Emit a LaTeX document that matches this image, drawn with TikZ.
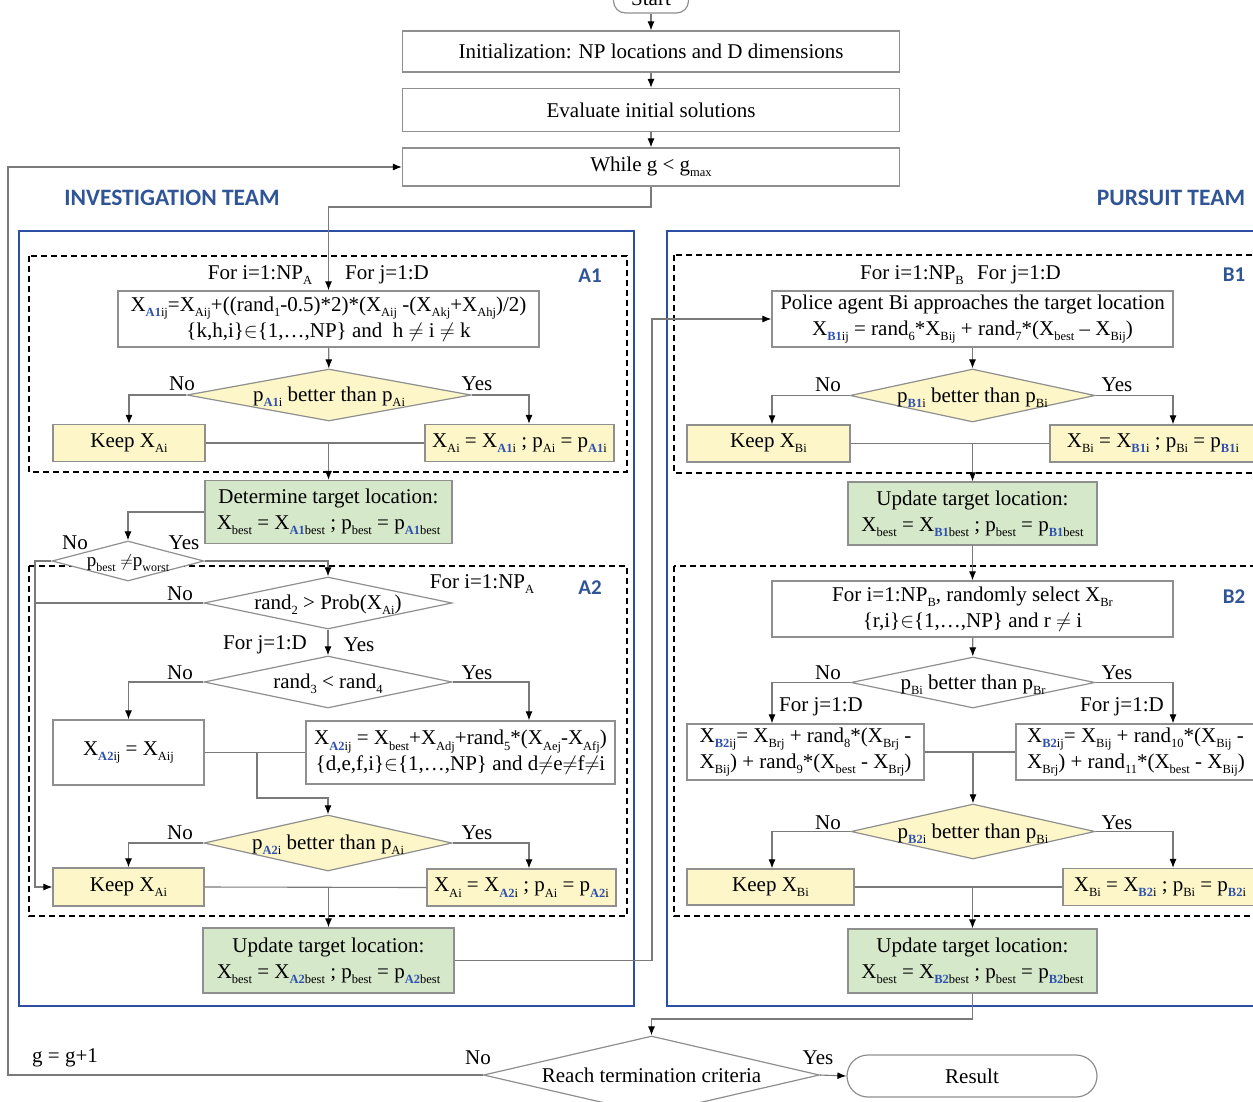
\documentclass[tikz,border=0pt]{standalone}
\usepackage{fontspec}
\setmainfont{Liberation Serif}
\newfontfamily\teamfont{Carlito}
\usetikzlibrary{arrows.meta,shapes.geometric}

\definecolor{teamblue}{HTML}{2F5597}
\definecolor{subblue}{HTML}{2E50B0}
\definecolor{frameblue}{HTML}{2C4EA3}
\definecolor{boxgray}{HTML}{8F8F8F}
\definecolor{linegray}{HTML}{7A7A7A}
\definecolor{yfill}{HTML}{FDF6C8}
\definecolor{gfill}{HTML}{D5E8C9}

% text sizes and subscripts
\newcommand\mainfs{\fontsize{21}{26}\selectfont}
\newcommand\smallfs{\fontsize{19}{22}\selectfont}
\newcommand\dn[1]{\raisebox{-0.25em}{\fontsize{12.5}{12.5}\selectfont #1}}
\newcommand\dnb[1]{\raisebox{-0.25em}{\fontsize{12.5}{12.5}\selectfont\bfseries\color{subblue}#1}}
\newcommand\dns[1]{\raisebox{-0.25em}{\fontsize{12}{12}\selectfont #1}}

\begin{document}
\begin{tikzpicture}[x=1pt,y=-1pt,
  base/.style={font=\mainfs, inner sep=0pt, align=center},
  wbox/.style={base, rectangle, draw=boxgray, line width=1.2pt, fill=white},
  ybox/.style={wbox, fill=yfill},
  gbox/.style={wbox, fill=gfill},
  dia/.style={base, diamond, draw=boxgray, line width=1.2pt, fill=white},
  ydia/.style={dia, fill=yfill},
  conn/.style={draw=linegray, line width=1.1pt},
  arr/.style={conn, -{Latex[length=9pt,width=7pt,color=black]}},
  lbl/.style={font=\mainfs, inner sep=0pt},
  teamlbl/.style={font=\teamfont\bfseries\fontsize{23.5}{26}\selectfont, text=teamblue, inner sep=0pt},
  partlbl/.style={font=\teamfont\bfseries\fontsize{21}{24}\selectfont, text=teamblue, inner sep=0pt},
  teamframe/.style={draw=frameblue, line width=2.6pt},
  partframe/.style={draw=black, line width=1.6pt, dash pattern=on 6pt off 4pt}
]
\useasboundingbox (0,0) rectangle (1253,1101);
\clip (0,0) rectangle (1253,1101);

% team frames and part frames
\draw[teamframe] (19,231) rectangle (634,1006);
\draw[teamframe] (667,231) rectangle (1270,1006);
\draw[partframe] (29,256) rectangle (627,472);
\draw[partframe] (29,566) rectangle (627,916);
\draw[partframe] (674,255) rectangle (1270,473);
\draw[partframe] (674,566) rectangle (1270,916);

\node[teamlbl] (invteam) at (172,198) {INVESTIGATION TEAM};
\node[teamlbl] (purteam) at (1171,198) {PURSUIT TEAM};
\node[partlbl] (pa1) at (590,276) {A1};
\node[partlbl] (pa2) at (590,588) {A2};
\node[partlbl] (pb1) at (1234,275) {B1};
\node[partlbl] (pb2) at (1234,597) {B2};

% ---------- nodes ----------
\node[wbox, rounded corners=12pt, minimum width=75, minimum height=28] (start) at (651,-1) {Start};
\node[wbox, minimum width=497, minimum height=41] (init) at (651,51.5) {Initialization: NP locations and D dimensions};
\node[wbox, minimum width=497, minimum height=43] (eval) at (651,110) {Evaluate initial solutions};
\node[wbox, minimum width=497, minimum height=38] (while) at (651,167) {While g < g\dn{max}};

% investigation team, part A1
\node[wbox, minimum width=421, minimum height=56] (a1f) at (328.5,319)
  {X\dnb{A1}\dn{ij}=X\dn{Aij}+((rand\dn{1}-0.5)*2)*(X\dn{Aij} -(X\dn{Akj}+X\dn{Ahj})/2)\\
   \{k,h,i\}$\in$\{1,…,NP\} and~ h $\neq$ i $\neq$ k};
\node[ydia, minimum width=284, minimum height=52] (a1d) at (329,395) {};
\node[lbl] (a1dt) at (329,397) {p\dnb{A1}\dn{i} better than p\dn{Ai}};
\node[ybox, minimum width=152, minimum height=37] (a1k) at (129,443) {Keep X\dn{Ai}};
\node[ybox, minimum width=189, minimum height=37] (a1y) at (519.5,443)
  {X\dn{Ai} = X\dnb{A1}\dn{i} ; p\dn{Ai} = p\dnb{A1}\dn{i}};
\node[gbox, minimum width=247, minimum height=63] (a1g) at (328.5,512)
  {Determine target location:\\X\dn{best} = X\dnb{A1}\dn{best} ; p\dn{best} = p\dnb{A1}\dn{best}};
\node[dia, minimum width=152, minimum height=40] (sd) at (128,561) {};
\node[lbl, font=\smallfs] (sdt) at (128,563) {p\dns{best} $\neq$p\dns{worst}};

% part A2
\node[dia, minimum width=248, minimum height=52] (a2d1) at (328,603) {};
\node[lbl] (a2d1t) at (328,605) {rand\dn{2} > Prob(X\dn{Ai})};
\node[dia, minimum width=248, minimum height=52] (a2d2) at (328,682) {};
\node[lbl] (a2d2t) at (328,684) {rand\dn{3} < rand\dn{4}};
\node[wbox, minimum width=151, minimum height=65] (a2l) at (128.5,752.5) {X\dnb{A2}\dn{ij} = X\dn{Aij}};
\node[wbox, minimum width=309, minimum height=63] (a2r) at (460.5,752.5)
  {X\dnb{A2}\dn{ij} = X\dn{best}+X\dn{Adj}+rand\dn{5}*(X\dn{Aej}-X\dn{Afj})\\
   \{d,e,f,i\}$\in$\{1,…,NP\} and d$\neq$e$\neq$f$\neq$i};
\node[ydia, minimum width=248, minimum height=56] (a2d3) at (328,843) {};
\node[lbl] (a2d3t) at (328,845) {p\dnb{A2}\dn{i} better than p\dn{Ai}};
\node[ybox, minimum width=151, minimum height=38] (a2k) at (128.5,887) {Keep X\dn{Ai}};
\node[ybox, minimum width=189, minimum height=37] (a2y) at (521.5,887.5)
  {X\dn{Ai} = X\dnb{A2}\dn{i} ; p\dn{Ai} = p\dnb{A2}\dn{i}};
\node[gbox, minimum width=251, minimum height=65] (a2g) at (328.5,960.5)
  {Update target location:\\X\dn{best} = X\dnb{A2}\dn{best} ; p\dn{best} = p\dnb{A2}\dn{best}};

% pursuit team, part B1
\node[wbox, minimum width=401, minimum height=56] (b1f) at (972.5,319)
  {Police agent Bi approaches the target location\\
   X\dnb{B1}\dn{ij} = rand\dn{6}*X\dn{Bij} + rand\dn{7}*(X\dn{best} – X\dn{Bij})};
\node[ydia, minimum width=245, minimum height=53] (b1d) at (972.5,395.5) {};
\node[lbl] (b1dt) at (972.5,397.5) {p\dnb{B1}\dn{i} better than p\dn{Bi}};
\node[ybox, minimum width=163, minimum height=37] (b1k) at (768.5,443.5) {Keep X\dn{Bi}};
\node[ybox, minimum width=206, minimum height=37] (b1y) at (1153,443.5)
  {X\dn{Bi} = X\dnb{B1}\dn{i} ; p\dn{Bi} = p\dnb{B1}\dn{i}};
\node[gbox, minimum width=249, minimum height=63] (b1g) at (972.5,513.5)
  {Update target location:\\X\dn{best} = X\dnb{B1}\dn{best} ; p\dn{best} = p\dnb{B1}\dn{best}};

% part B2
\node[wbox, minimum width=401, minimum height=56] (b2f) at (972.5,609)
  {For i=1:NP\dn{B}, randomly select X\dn{Br}\\\{r,i\}$\in$\{1,…,NP\} and r $\neq$ i};
\node[dia, minimum width=244, minimum height=51] (b2d) at (973,682.5) {};
\node[lbl] (b2dt) at (973,684.5) {p\dn{Bi} better than p\dn{Br}};
\node[wbox, align=left, minimum width=237, minimum height=56] (b2l) at (805.5,752)
  {X\dnb{B2}\dn{ij}= X\dn{Brj} + rand\dn{8}*(X\dn{Brj} -\\X\dn{Bij}) + rand\dn{9}*(X\dn{best} - X\dn{Brj})};
\node[wbox, align=left, minimum width=240, minimum height=56] (b2r) at (1136,752)
  {X\dnb{B2}\dn{ij}= X\dn{Bij} + rand\dn{10}*(X\dn{Bij} -\\X\dn{Brj}) + rand\dn{11}*(X\dn{best} - X\dn{Bij})};
\node[ydia, minimum width=244, minimum height=55] (b2d2) at (973,831.5) {};
\node[lbl] (b2d2t) at (973,833.5) {p\dnb{B2}\dn{i} better than p\dn{Bi}};
\node[ybox, minimum width=167, minimum height=36] (b2k) at (770.5,887) {Keep X\dn{Bi}};
\node[ybox, minimum width=194, minimum height=37] (b2y) at (1160,887)
  {X\dn{Bi} = X\dnb{B2}\dn{i} ; p\dn{Bi} = p\dnb{B2}\dn{i}};
\node[gbox, minimum width=249, minimum height=64] (b2g) at (972.5,961)
  {Update target location:\\X\dn{best} = X\dnb{B2}\dn{best} ; p\dn{best} = p\dnb{B2}\dn{best}};

% termination
\node[dia, minimum width=336, minimum height=78] (term) at (651.5,1075) {};
\node[lbl] (termt) at (651.5,1075) {Reach termination criteria};
\node[wbox, rounded corners=21pt, minimum width=250, minimum height=42] (result) at (972,1076) {Result};

% ---------- labels ----------
\node[lbl] (fia) at (260,275) {For i=1:NP\dn{A}};
\node[lbl] (fja) at (387,275) {For j=1:D};
\node[lbl] (no1) at (182,384) {No};
\node[lbl] (yes1) at (477,384) {Yes};
\node[lbl] (no2) at (75,543) {No};
\node[lbl] (yes2) at (184,543) {Yes};
\node[lbl] (fia2) at (482,584) {For i=1:NP\dn{A}};
\node[lbl] (no3) at (180,594) {No};
\node[lbl] (fja2) at (265,645) {For j=1:D};
\node[lbl] (yes3) at (359,645) {Yes};
\node[lbl] (no4) at (180,673) {No};
\node[lbl] (yes4) at (477,673) {Yes};
\node[lbl] (no5) at (180,833) {No};
\node[lbl] (yes5) at (477,833) {Yes};

\node[lbl] (fib) at (912,275) {For i=1:NP\dn{B}};
\node[lbl] (fjb) at (1019,275) {For j=1:D};
\node[lbl] (no6) at (828,385) {No};
\node[lbl] (yes6) at (1117,385) {Yes};
\node[lbl] (no7) at (828,673) {No};
\node[lbl] (yes7) at (1117,673) {Yes};
\node[lbl] (fjb2) at (821,707) {For j=1:D};
\node[lbl] (fjb3) at (1122,707) {For j=1:D};
\node[lbl] (no8) at (828,823) {No};
\node[lbl] (yes8) at (1117,823) {Yes};

\node[lbl] (gstep) at (65,1058) {g = g+1};
\node[lbl] (no9) at (478,1058) {No};
\node[lbl] (yes9) at (818,1058) {Yes};

% ---------- connectors ----------
% set-up
\draw[arr] (start) -- (init);
\draw[arr] (init) -- (eval);
\draw[arr] (eval) -- (while);
\draw[arr] (while.south) -- (651,207) -| (a1f.north);

% A1
\draw[arr] (a1f) -- (a1d);
\draw[arr] (a1d.west) -| (a1k.north);
\draw[arr] (a1d.east) -| ([xshift=9.5pt]a1y.north);
\draw[conn] (a1k.east) -- (a1y.west);
\draw[arr] (a1g.north |- a1k.east) -- (a1g.north);
\draw[arr] (a1g.west) -| (sd.north);
\draw[arr] (sd.east) -| (a2d1.north);
\draw[arr] (sd.west) -| (35,887) -- (a2k.west);

% A2
\draw[conn] (a2d1.west) -- (35,603);
\draw[arr] (a2d1) -- (a2d2);
\draw[arr] (a2d2.west) -| (a2l.north);
\draw[arr] (a2d2.east) -| ([xshift=68.5pt]a2r.north);
\draw[conn] (a2l.east) -- (a2r.west);
\draw[arr] (257,752.5) -- (257,798) -| (a2d3.north);
\draw[arr] (a2d3.west) -| (a2k.north);
\draw[arr] (a2d3.east) -| ([xshift=7.5pt]a2y.north);
\draw[conn] (a2k.east) -- (a2y.west);
\draw[arr] (a2g.north |- a2k.east) -- (a2g.north);
\draw[arr] (a2g.east) -| (652,319) -- (b1f.west);

% B1
\draw[arr] (b1f) -- (b1d);
\draw[arr] (b1d.west) -| ([xshift=3.5pt]b1k.north);
\draw[arr] (b1d.east) -| ([xshift=20pt]b1y.north);
\draw[conn] (b1k.east) -- (b1y.west);
\draw[arr] (b1g.north |- b1k.east) -- (b1g.north);
\draw[arr] (b1g) -- (b2f);

% B2
\draw[arr] (b2f) -- (b2d);
\draw[arr] (b2d.west) -| ([xshift=-33.5pt]b2l.north);
\draw[arr] (b2d.east) -| ([xshift=37pt]b2r.north);
\draw[conn] (b2l.east) -- (b2r.west);
\draw[arr] (b2d2.north |- b2l.east) -- (b2d2.north);
\draw[arr] (b2d2.west) -| ([xshift=1.5pt]b2k.north);
\draw[arr] (b2d2.east) -| ([xshift=13pt]b2y.north);
\draw[conn] (b2k.east) -- (b2y.west);
\draw[arr] (b2g.north |- b2k.east) -- (b2g.north);

% termination and loop back
\draw[arr] (b2g.south) -- (972.5,1019) -| (term.north);
\draw[arr] (term.east) -- (result.west);
\draw[arr] (term.west) -| (8,167) -- (while.west);
\end{tikzpicture}
\end{document}
